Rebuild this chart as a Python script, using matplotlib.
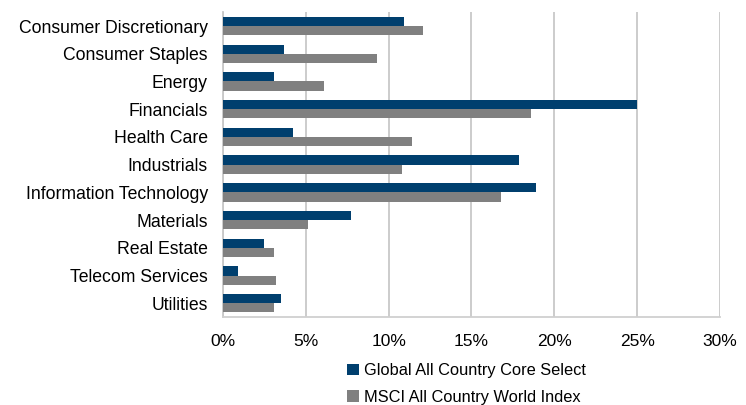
import matplotlib
matplotlib.use("Agg")
import matplotlib.pyplot as plt
import numpy as np

plt.rcParams['font.family'] = ['Liberation Sans', 'DejaVu Sans']

categories = ["Consumer Discretionary", "Consumer Staples", "Energy", "Financials",
              "Health Care", "Industrials", "Information Technology", "Materials",
              "Real Estate", "Telecom Services", "Utilities"]
core_select = [10.9, 3.7, 3.1, 25.0, 4.2, 17.9, 18.9, 7.7, 2.5, 0.9, 3.5]
msci_acwi = [12.1, 9.3, 6.1, 18.6, 11.4, 10.8, 16.8, 5.1, 3.1, 3.2, 3.1]
series_names = ["Global All Country Core Select", "MSCI All Country World Index"]
xticks = [0, 5, 10, 15, 20, 25, 30]

fig = plt.figure(figsize=(7.46, 4.05), dpi=100)
ax = fig.add_axes([0.299, 0.217, 0.666, 0.753])

y = np.arange(len(categories))
h = 0.33
ax.barh(y - h / 2, core_select, height=h, color="#003f6e", label=series_names[0], zorder=3)
ax.barh(y + h / 2, msci_acwi, height=h, color="#808080", label=series_names[1], zorder=3)

ax.set_ylim(len(categories) - 0.5, -0.5)
ax.set_yticks(y)
ax.set_yticklabels(categories, fontsize=12.7)
ax.set_xlim(0, 30)
ax.set_xticks(xticks)
ax.set_xticklabels([f"{t}%" for t in xticks], fontsize=12.5)
ax.tick_params(axis='y', length=0, pad=11)
ax.tick_params(axis='x', length=0, pad=12)

ax.grid(axis='x', color="#c8c8c8", linewidth=1.3, zorder=0)
for s in ["top", "right"]:
    ax.spines[s].set_visible(False)
ax.spines["left"].set_color("#c8c8c8")
ax.spines["left"].set_linewidth(1.3)
ax.spines["bottom"].set_color("#d0d0d0")
ax.spines["bottom"].set_linewidth(1.3)

leg = fig.legend(loc="upper center", bbox_to_anchor=(0.625, 0.14), ncol=1, frameon=False,
                 fontsize=11.8, handlelength=0.7, handleheight=0.7, handletextpad=0.3,
                 labelspacing=0.72)

fig.savefig("out.png", dpi=100)
